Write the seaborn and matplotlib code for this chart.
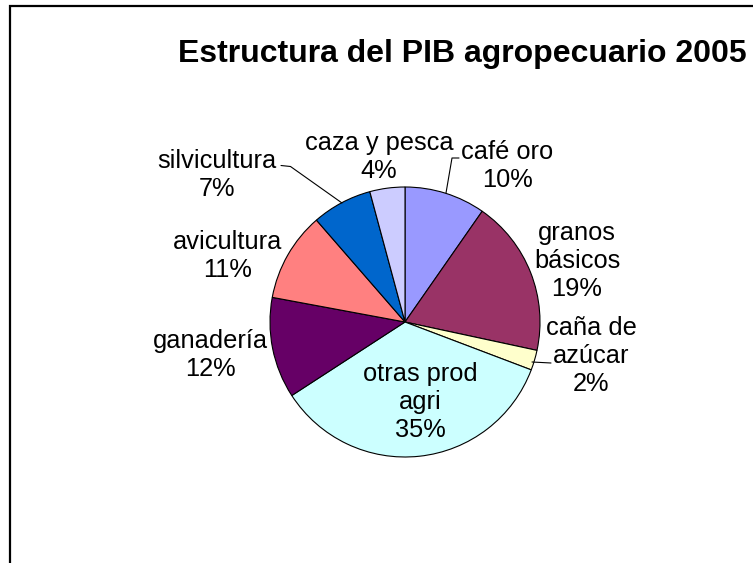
import numpy as np
import matplotlib
matplotlib.use("Agg")
import matplotlib.pyplot as plt
import seaborn as sns
from matplotlib.patches import Rectangle

sns.set_theme(style="white")
plt.rcParams["font.family"] = ["Liberation Sans", "DejaVu Sans"]

# ---- data ----
categories = ["café oro", "granos\nbásicos", "caña de\nazúcar", "otras prod\nagri",
              "ganadería", "avicultura", "silvicultura", "caza y pesca"]
values = [9.7, 18.7, 2.4, 35.1, 12.1, 10.7, 7.2, 4.2]
colors = ["#9999FF", "#993366", "#FFFFCC", "#CCFFFF",
          "#660066", "#FF8080", "#0066CC", "#CCCCFF"]
title = "Estructura del PIB agropecuario 2005"

W, H = 753, 563
fig = plt.figure(figsize=(W / 100, H / 100), dpi=100)
fig.patch.set_facecolor("white")

# outer frame (cropped at right and bottom)
fig.patches.append(Rectangle((10 / W, -0.1), 1.2, (H - 6) / H + 0.1, transform=fig.transFigure,
                             fill=False, edgecolor="black", linewidth=1.6))

# pie axes: centre (405, 322) px, radius 135 px
cx, cy, r = 405, 322, 135
ax = fig.add_axes([(cx - r) / W, (H - cy - r) / H, 2 * r / W, 2 * r / H])
ax.pie(values, colors=colors, startangle=90, counterclock=False, radius=1,
       wedgeprops=dict(edgecolor="black", linewidth=0.8))
ax.set_xlim(-1, 1)
ax.set_ylim(-1, 1)
ax.set_aspect("equal")
ax.axis("off")

def px(x, y):
    return ((x - cx) / r, (cy - y) / r)

total = sum(values)
pcts = [round(v / total * 100) for v in values]
label_pos = [(507, 166), (577, 261), (591, 356), (420, 402),
             (210, 355), (228, 256), (217, 175), (379, 157)]
for cat, p, (x, y) in zip(categories, pcts, label_pos):
    ax.text(*px(x, y), f"{cat}\n{p}%", ha="center", va="center", fontsize=18.3,
            linespacing=1.22, color="black", clip_on=False)

# leader lines
leaders = [
    [(281, 165.5), (290.5, 166.5), (342, 203)],
    [(459, 158), (452, 158), (446, 193)],
    [(532, 362), (551, 363)],
]
for pts in leaders:
    xs, ys = zip(*[px(a, b) for a, b in pts])
    ax.plot(xs, ys, color="black", linewidth=0.8, clip_on=False)

fig.text(462 / W, 1 - 54 / H, title, ha="center", va="center", fontsize=23,
         fontweight="bold", color="black")

fig.savefig("out.png", dpi=100)
